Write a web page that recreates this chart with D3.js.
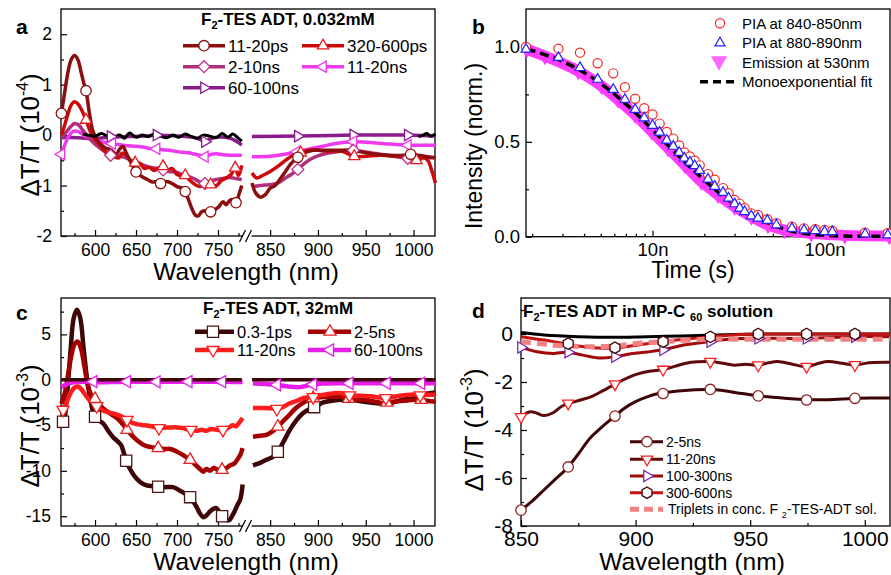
<!DOCTYPE html>
<html>
<head>
<meta charset="utf-8">
<script src="https://cdn.jsdelivr.net/npm/d3@7"></script>
<style>
  body { margin: 0; background: #fff; }
  svg { font-family: "Liberation Sans", Arial, Helvetica, sans-serif; }
</style>
</head>
<body>
<svg id="fig" width="891" height="575"></svg>
<script>
// ---- panel a: F2-TES ADT 0.032mM, dT/T in 1e-4, [nm, value] ----
const a_black = [[585,0.02],[592,0.0],[600,-0.02],[608,0.03],[615,-0.02],[622,-0.05],[630,0.0],[636,-0.06],[642,0.04],[650,-0.04],[658,0.0],[665,-0.03],[672,0.02],[680,-0.02],[688,-0.05],[695,0.0],[702,-0.04],[710,0.02],[718,-0.03],[725,-0.06],[732,0.0],[740,-0.02],[748,-0.05],[755,0.03],[762,-0.04],[768,0.02],[774,-0.05],[779,-0.12]];
const a_blackR = [[1005,-0.03],[1010,0.0],[1014,0.03],[1018,-0.02],[1023,0.02]];

const a_ps11 = [[559,0.43],[563,0.85],[567,1.25],[571,1.5],[575,1.58],[579,1.5],[583,1.25],[586,1.05],[589,0.88],[593,0.45],[597,0.1],[600,-0.02],[605,-0.15],[612,-0.25],[620,-0.3],[626,-0.38],[630,-0.28],[634,-0.22],[638,-0.35],[644,-0.55],[650,-0.73],[657,-0.82],[664,-0.88],[670,-0.93],[676,-0.92],[680,-0.96],[687,-0.92],[693,-0.95],[700,-1.02],[706,-1.05],[710,-1.12],[714,-1.28],[718,-1.45],[722,-1.58],[726,-1.6],[730,-1.52],[735,-1.5],[741,-1.52],[746,-1.48],[751,-1.42],[756,-1.32],[760,-1.38],[764,-1.3],[768,-1.28],[772,-1.34],[776,-1.15],[779,-1.0]];
const a_ps11R = [[831,-0.95],[835,-1.15],[840,-1.23],[845,-1.18],[850,-1.05],[855,-1.0],[860,-0.88],[866,-0.72],[872,-0.56],[879,-0.44],[886,-0.35],[895,-0.3],[905,-0.3],[915,-0.3],[930,-0.3],[945,-0.33],[960,-0.38],[975,-0.4],[990,-0.4],[997,-0.38],[1005,-0.4],[1015,-0.43],[1023,-0.45]];
const a_ps11M = [[559,0.43],[589,0.88],[650,-0.73],[680,-0.96],[710,-1.12],[741,-1.52],[772,-1.34],[879,-0.44],[997,-0.38]];

const a_ps320 = [[559,0.0],[563,0.2],[567,0.42],[571,0.6],[575,0.66],[579,0.62],[583,0.52],[589,0.3],[594,0.08],[598,-0.05],[602,-0.13],[607,-0.22],[612,-0.32],[618,-0.4],[624,-0.43],[629,-0.45],[633,-0.36],[637,-0.38],[642,-0.48],[649,-0.55],[655,-0.56],[660,-0.66],[666,-0.64],[672,-0.7],[677,-0.66],[683,-0.62],[688,-0.7],[694,-0.66],[700,-0.78],[705,-0.8],[710,-0.8],[716,-0.9],[722,-0.98],[728,-1.02],[734,-0.98],[741,-0.98],[748,-1.0],[754,-0.9],[760,-0.85],[766,-0.78],[771,-0.65],[775,-0.8],[779,-0.6]];
const a_ps320R = [[831,-0.75],[836,-0.85],[842,-0.8],[850,-0.72],[858,-0.62],[866,-0.5],[874,-0.4],[882,-0.35],[890,-0.3],[900,-0.3],[910,-0.32],[925,-0.32],[938,-0.42],[950,-0.42],[965,-0.4],[980,-0.42],[995,-0.45],[1003,-0.5],[1010,-0.45],[1015,-0.5],[1019,-0.7],[1023,-0.95]];
const a_ps320M = [[589,0.3],[649,-0.55],[683,-0.62],[710,-0.8],[741,-0.98],[771,-0.65],[882,-0.35],[938,-0.42],[1003,-0.5]];

const a_ns2 = [[559,-0.05],[563,0.02],[567,0.1],[571,0.18],[575,0.23],[580,0.2],[585,0.1],[590,0.0],[595,-0.1],[600,-0.18],[608,-0.28],[619,-0.4],[628,-0.42],[636,-0.44],[644,-0.5],[652,-0.56],[660,-0.6],[668,-0.64],[676,-0.66],[683,-0.69],[690,-0.72],[698,-0.73],[706,-0.78],[714,-0.82],[720,-0.86],[727,-0.92],[734,-0.96],[740,-0.92],[748,-0.88],[756,-0.86],[764,-0.84],[772,-0.86],[779,-0.88]];
const a_ns2R = [[831,-1.02],[845,-0.99],[858,-0.95],[866,-0.85],[872,-0.78],[879,-0.68],[886,-0.56],[893,-0.47],[900,-0.41],[910,-0.36],[920,-0.33],[930,-0.3],[937,-0.3],[945,-0.32],[955,-0.35],[965,-0.38],[980,-0.42],[994,-0.46],[1008,-0.45],[1023,-0.45]];
const a_ns2M = [[619,-0.4],[683,-0.69],[734,-0.96],[879,-0.68],[937,-0.3],[994,-0.46]];

const a_ns11 = [[559,-0.38],[563,-0.2],[568,-0.02],[572,0.06],[576,0.08],[582,0.05],[588,-0.02],[595,-0.07],[602,-0.1],[610,-0.14],[621,-0.17],[630,-0.19],[640,-0.21],[650,-0.22],[660,-0.24],[668,-0.27],[675,-0.27],[682,-0.29],[690,-0.3],[698,-0.32],[706,-0.34],[714,-0.35],[722,-0.38],[728,-0.4],[734,-0.43],[740,-0.39],[748,-0.37],[756,-0.39],[764,-0.4],[772,-0.4],[779,-0.4]];
const a_ns11R = [[831,-0.43],[850,-0.42],[865,-0.38],[878,-0.33],[890,-0.28],[905,-0.22],[920,-0.16],[937,-0.13],[950,-0.14],[970,-0.17],[994,-0.2],[1010,-0.2],[1023,-0.2]];
const a_ns11M = [[559,-0.38],[621,-0.17],[675,-0.27],[734,-0.43],[878,-0.33],[937,-0.13],[994,-0.2]];

const a_ns60 = [[559,-0.05],[580,-0.05],[600,-0.07],[619,-0.04],[640,-0.03],[660,-0.02],[675,0.0],[690,-0.01],[705,-0.02],[718,-0.04],[727,-0.08],[734,-0.13],[740,-0.08],[748,-0.04],[756,-0.04],[764,-0.06],[770,-0.1],[775,-0.15],[779,-0.2]];
const a_ns60R = [[831,-0.03],[879,-0.02],[937,0.0],[994,0.0],[1023,-0.02]];
const a_ns60M = [[619,-0.03],[675,0.0],[734,-0.13],[879,-0.02],[937,0.0],[994,0.0]];

// ---- panel b: decays, time in ns ----
const b_time = [1.84,2.84,3.79,4.8,5.91,6.91,7.93,8.95,10,11,12.1,13.2,14.3,15.3,16.5,17.6,18.8,21,23,25.7,27.7,30,32.1,34.3,37.5,41,46.5,52.5,64.6,75.9,88.3,100,111,172,233];
const b_pia840 = [1.0,0.991,0.97,0.914,0.861,0.788,0.727,0.677,0.644,0.596,0.552,0.517,0.481,0.444,0.423,0.4,0.376,0.33,0.3,0.256,0.229,0.194,0.173,0.15,0.123,0.115,0.092,0.071,0.053,0.044,0.039,0.035,0.032,0.021,0.018];
const b_pia880 = [0.988,0.944,0.891,0.829,0.776,0.723,0.67,0.626,0.586,0.55,0.508,0.476,0.444,0.414,0.392,0.374,0.349,0.303,0.265,0.233,0.203,0.173,0.15,0.132,0.109,0.097,0.085,0.062,0.044,0.035,0.032,0.026,0.026,0.014,0.009];
const b_emTime = [1.86,2.37,3.7,5.06,6.3,7.9,9.87,12.3,15.4,19.2,24,30,37.6,46.9,58.6,83.7,131,238];
const b_emission = [0.988,0.952,0.873,0.794,0.723,0.644,0.556,0.468,0.379,0.291,0.221,0.159,0.106,0.062,0.035,0.018,0.007,0.004];
const b_fitTime = [1.86,2.96,4.63,7.22,11.3,17.6,27.5,42.9,67,105,204,240];
const b_fit = [0.99,0.926,0.829,0.688,0.515,0.344,0.194,0.088,0.026,0.006,0.003,0.003];

// ---- panel c: F2-TES ADT 32mM, dT/T in 1e-3 ----
const c_zero = [[559,0.0],[779,0.0]];
const c_zeroR = [[831,0.0],[1023,0.0]];

const c_ps03 = [[559,-5.0],[562,-4.6],[566,-1.5],[570,3.0],[574,6.8],[578,7.7],[582,6.8],[586,3.5],[590,0.3],[594,-2.0],[598,-3.6],[602,-4.3],[610,-4.8],[616,-5.6],[622,-6.3],[628,-6.8],[632,-7.2],[638,-8.9],[644,-10.0],[650,-10.8],[656,-11.3],[663,-11.6],[670,-11.7],[677,-11.76],[685,-11.8],[695,-11.8],[702,-12.1],[708,-12.4],[716,-12.9],[720,-13.4],[724,-14.0],[728,-14.7],[732,-15.1],[736,-14.9],[740,-14.5],[744,-14.2],[748,-14.1],[752,-14.6],[756,-15.0],[760,-15.4],[764,-15.4],[767,-15.0],[770,-14.5],[774,-13.7],[777,-13.2],[780,-11.5]];
const c_ps03R = [[832,-9.4],[840,-9.1],[848,-8.7],[853,-8.45],[858,-7.9],[864,-6.8],[870,-5.6],[877,-4.5],[884,-3.7],[890,-3.3],[897,-3.0],[905,-2.5],[915,-2.3],[925,-2.2],[935,-2.2],[945,-2.35],[955,-2.5],[965,-2.6],[975,-2.55],[985,-2.3],[995,-2.0],[1005,-1.7],[1015,-1.5],[1023,-1.4]];
const c_ps03M = [[561,-4.6],[600,-4.05],[638,-8.9],[677,-11.76],[716,-12.9],[755,-15.0],[858,-7.9],[896,-3.0]];

const c_ns2 = [[559,-2.6],[563,-1.5],[567,0.5],[571,2.6],[575,3.9],[579,4.2],[583,3.4],[587,1.5],[591,-0.5],[595,-1.6],[600,-2.1],[606,-2.8],[612,-3.3],[620,-3.8],[628,-4.3],[634,-4.9],[639,-5.5],[645,-6.1],[652,-6.7],[660,-7.2],[668,-7.4],[677,-7.5],[685,-7.6],[692,-7.6],[700,-7.9],[708,-8.3],[716,-8.8],[722,-9.3],[728,-9.8],[732,-10.1],[736,-9.8],[740,-10.0],[745,-9.7],[750,-9.9],[755,-9.9],[760,-9.7],[765,-9.4],[770,-9.2],[774,-8.7],[777,-8.3],[780,-7.5]];
const c_ns2R = [[832,-6.25],[840,-6.15],[846,-6.06],[852,-5.7],[858,-5.15],[864,-4.5],[870,-3.86],[877,-3.1],[884,-2.57],[890,-2.2],[896,-2.0],[905,-1.9],[915,-1.85],[925,-1.9],[932,-2.1],[940,-2.2],[950,-2.2],[960,-2.4],[970,-2.55],[980,-2.4],[990,-2.3],[1000,-2.2],[1008,-2.2],[1015,-2.3],[1023,-2.4]];
const c_ns2M = [[600,-2.1],[639,-5.5],[677,-7.5],[716,-8.8],[755,-9.9],[858,-5.15],[895,-2.0],[932,-2.1],[972,-2.5],[1008,-2.2]];

const c_ns11 = [[559,-3.0],[563,-2.9],[567,-2.1],[571,-1.3],[575,-0.85],[579,-0.74],[583,-1.0],[587,-1.5],[592,-2.1],[597,-2.5],[602,-2.9],[610,-3.4],[618,-3.6],[626,-3.8],[632,-4.0],[639,-4.4],[645,-4.7],[652,-4.9],[660,-5.0],[668,-5.1],[678,-5.3],[688,-5.25],[698,-5.2],[706,-5.3],[716,-5.5],[724,-5.6],[730,-5.5],[736,-5.6],[742,-5.4],[748,-5.5],[755,-5.5],[762,-5.3],[768,-5.0],[772,-5.1],[776,-4.7],[780,-4.2]];
const c_ns11R = [[832,-3.1],[840,-3.1],[850,-3.12],[857,-3.2],[864,-2.95],[870,-2.6],[878,-2.3],[885,-2.0],[895,-1.85],[905,-1.65],[915,-1.5],[923,-1.45],[933,-1.65],[945,-1.75],[955,-1.8],[965,-1.95],[972,-2.0],[980,-1.85],[990,-1.7],[1000,-1.6],[1008,-1.7],[1015,-1.65],[1023,-1.65]];
const c_ns11M = [[561,-3.3],[602,-2.9],[639,-4.4],[678,-5.3],[717,-5.5],[756,-5.5],[857,-3.2],[895,-1.9],[933,-1.7],[971,-2.0],[1007,-1.7]];

const c_ns60 = [[559,-0.8],[565,-0.5],[572,-0.3],[580,-0.2],[600,-0.25],[640,-0.2],[680,-0.22],[720,-0.2],[760,-0.22],[780,-0.25]];
const c_ns60R = [[832,-0.4],[845,-0.45],[857,-0.55],[870,-0.75],[881,-0.8],[893,-0.55],[905,-0.4],[933,-0.37],[972,-0.37],[1007,-0.37],[1023,-0.37]];
const c_ns60M = [[598,-0.2],[639,-0.2],[675,-0.22],[714,-0.2],[755,-0.2],[857,-0.55],[895,-0.5],[933,-0.37],[972,-0.37],[1008,-0.37]];

// ---- panel d: in MP-C60 solution, dT/T in 1e-3 ----
const d_zero = [[850,0.06],[860,-0.04],[875,-0.11],[890,-0.14],[905,-0.11],[920,-0.08],[935,-0.04],[950,-0.01],[965,0.0],[1011,0.0]];
const d_ns2 = [[850,-7.34],[855,-6.95],[860,-6.5],[865,-6.05],[870,-5.6],[875,-5.0],[880,-4.35],[885,-3.9],[890,-3.5],[895,-3.1],[900,-2.82],[905,-2.62],[910,-2.48],[915,-2.42],[920,-2.36],[926,-2.32],[932,-2.31],[938,-2.35],[944,-2.45],[950,-2.53],[956,-2.6],[962,-2.65],[968,-2.7],[975,-2.73],[982,-2.74],[990,-2.71],[996,-2.68],[1003,-2.67],[1011,-2.67]];
const d_ns2M = [[850,-7.34],[870.6,-5.54],[891,-3.42],[912,-2.48],[932.6,-2.31],[953.5,-2.58],[974.6,-2.75],[995.7,-2.68]];
const d_ns11 = [[850,-3.45],[854,-3.24],[857,-3.3],[860,-3.4],[864,-3.28],[868,-3.0],[871,-2.89],[876,-2.75],[881,-2.6],[886,-2.35],[891,-2.09],[896,-1.85],[901,-1.66],[906,-1.55],[912,-1.48],[917,-1.35],[922,-1.22],[927,-1.16],[933,-1.15],[938,-1.22],[943,-1.3],[948,-1.26],[953.5,-1.3],[958,-1.2],[962,-1.15],[968,-1.25],[974.6,-1.36],[980,-1.22],[984,-1.15],[990,-1.22],[995.7,-1.29],[1002,-1.2],[1011,-1.18]];
const d_ns11M = [[850,-3.45],[870.6,-2.89],[891,-2.09],[912,-1.48],[932.6,-1.15],[953.5,-1.3],[974.6,-1.36],[995.7,-1.29]];
const d_ns100 = [[850,-0.56],[857,-0.74],[864,-0.81],[870,-0.76],[877,-0.88],[884,-1.0],[891,-0.95],[898,-0.82],[905,-0.75],[912,-0.66],[921,-0.46],[932,-0.32],[943,-0.2],[953,-0.18],[975,-0.18],[995,-0.11],[1011,-0.11]];
const d_ns100M = [[850,-0.56],[870.6,-0.76],[891,-0.95],[912,-0.66],[932.6,-0.32],[953.5,-0.18],[974.6,-0.18],[995.7,-0.11]];
const d_ns300 = [[850,-0.11],[860,-0.25],[870,-0.42],[880,-0.56],[891,-0.58],[901,-0.46],[912,-0.32],[921,-0.22],[932,-0.12],[943,-0.04],[953,0.0],[975,0.0],[995,0.0],[1011,0.0]];
const d_ns300M = [[870.6,-0.4],[891,-0.57],[912,-0.32],[932.6,-0.12],[953.5,0.0],[974.6,0.0],[995.7,0.0]];
const d_triplets = [[850,-0.32],[860,-0.42],[870,-0.5],[880,-0.53],[891,-0.5],[901,-0.39],[912,-0.32],[932,-0.22],[953,-0.22],[975,-0.22],[1011,-0.22]];

// tick values
const abMajorL = [600, 650, 700, 750], abMinorL = [575, 625, 675, 725, 775];
const abMajorR = [850, 900, 950, 1000], abMinorR = [875, 925, 975];
const dMajor = [850, 900, 950, 1000], dMinor = [875, 925, 975];

const svg = d3.select("#fig");
const smooth = d3.curveCatmullRom.alpha(0.5);

// panel frames
const A = { x0: 61, x1: 435, y0: 9, y1: 236 };
const B = { x0: 526, x1: 890, y0: 9, y1: 236.7 };
const C = { x0: 61, x1: 435, y0: 298, y1: 526 };
const D = { x0: 521, x1: 890, y0: 298, y1: 526 };

// scales
const xL = d3.scaleLinear().domain([558.5, 780]).range([61, 242.6]);
const xR = d3.scaleLinear().domain([831, 1023]).range([252, 435.5]);
const xAB = nm => nm < 800 ? xL(nm) : xR(nm);
const yA = d3.scaleLinear().domain([-2, 2.5]).range([A.y1, A.y0]);
const xB = d3.scaleLog().domain([1.84, 240]).range([B.x0, B.x1]);
const yB = d3.scaleLinear().domain([0, 1.2]).range([B.y1, B.y0]);
const yC = d3.scaleLinear().domain([-16.07, 9]).range([C.y1, C.y0]);
const xD = d3.scaleLinear().domain([850, 1011]).range([D.x0, D.x1]);
const yD = d3.scaleLinear().domain([-8, 1.5]).range([D.y1, D.y0]);

function styleAxis(g, size) {
  g.attr("font-size", size).attr("font-family", null);
  g.select(".domain").remove();
  g.selectAll("line").attr("stroke", "#000").attr("stroke-width", 1.2);
  g.selectAll("text").attr("fill", "#000");
}

function bottomAxis(scale, y, major, minor, fmt, pad, size) {
  svg.append("g").attr("transform", `translate(0,${y})`)
    .call(d3.axisBottom(scale).tickValues(major).tickSize(-6).tickPadding(pad).tickFormat(fmt))
    .call(g => styleAxis(g, size));
  svg.append("g").attr("transform", `translate(0,${y})`)
    .call(d3.axisBottom(scale).tickValues(minor).tickSize(-3).tickFormat(""))
    .call(g => styleAxis(g, size));
}

function leftAxis(scale, x, major, minor, fmt, pad, size) {
  svg.append("g").attr("transform", `translate(${x},0)`)
    .call(d3.axisLeft(scale).tickValues(major).tickSize(-6).tickPadding(pad).tickFormat(fmt))
    .call(g => styleAxis(g, size));
  svg.append("g").attr("transform", `translate(${x},0)`)
    .call(d3.axisLeft(scale).tickValues(minor).tickSize(-3).tickFormat(""))
    .call(g => styleAxis(g, size));
}

function frame(p) {
  svg.append("rect").attr("x", p.x0).attr("y", p.y0)
    .attr("width", p.x1 - p.x0).attr("height", p.y1 - p.y0)
    .attr("fill", "none").attr("stroke", "#000").attr("stroke-width", 1.3);
}

function breakMark(y) {
  svg.append("rect").attr("x", 243).attr("y", y - 3).attr("width", 8.5).attr("height", 6).attr("fill", "#fff");
  [239.5, 245.5].forEach(x0 => {
    svg.append("line").attr("x1", x0).attr("y1", y + 6).attr("x2", x0 + 6).attr("y2", y - 6)
      .attr("stroke", "#000").attr("stroke-width", 1.2);
  });
}

function yTitle(x, y, base, exp, size) {
  const t = svg.append("text").attr("transform", `translate(${x},${y}) rotate(-90)`)
    .attr("text-anchor", "middle").attr("font-size", size);
  t.append("tspan").text(base);
  if (exp) {
    t.append("tspan").attr("dy", -size * 0.42).attr("font-size", size * 0.6).text(exp);
    t.append("tspan").attr("dy", size * 0.42).text(")");
  }
}

function xTitle(x, y, txt, size) {
  svg.append("text").attr("x", x).attr("y", y).attr("text-anchor", "middle")
    .attr("font-size", size).text(txt);
}

function panelLabel(x, y, txt) {
  svg.append("text").attr("x", x).attr("y", y).attr("font-size", 21)
    .attr("font-weight", "bold").text(txt);
}

// marker shapes
function markerPath(type, r) {
  const poly = pts => "M" + pts.map(p => p.join(",")).join("L") + "Z";
  const tri = (ang) => {
    const R = r * 1.25;
    return poly([0, 1, 2].map(i => {
      const a = ang + i * 2 * Math.PI / 3;
      return [R * Math.cos(a), R * Math.sin(a)];
    }));
  };
  switch (type) {
    case "square": return poly([[-r, -r], [r, -r], [r, r], [-r, r]]);
    case "diamond": return poly([[0, -r * 1.15], [r * 1.15, 0], [0, r * 1.15], [-r * 1.15, 0]]);
    case "up": return tri(-Math.PI / 2);
    case "down": return tri(Math.PI / 2);
    case "left": return tri(Math.PI);
    case "right": return tri(0);
    case "hex": return poly(d3.range(6).map(i => {
      const a = -Math.PI / 2 + i * Math.PI / 3;
      return [r * 1.1 * Math.cos(a), r * 1.1 * Math.sin(a)];
    }));
    default: return null;
  }
}

function marker(x, y, type, r, stroke, fill, sw) {
  if (type === "circle") {
    svg.append("circle").attr("cx", x).attr("cy", y).attr("r", r)
      .attr("fill", fill).attr("stroke", stroke).attr("stroke-width", sw);
  } else {
    svg.append("path").attr("transform", `translate(${x},${y})`).attr("d", markerPath(type, r))
      .attr("fill", fill).attr("stroke", stroke).attr("stroke-width", sw);
  }
}

function line(pts, xs, ys, color, w, dash) {
  svg.append("path").datum(pts)
    .attr("d", d3.line().x(d => xs(d[0])).y(d => ys(d[1])).curve(smooth))
    .attr("fill", "none").attr("stroke", color).attr("stroke-width", w)
    .attr("stroke-linejoin", "round").attr("stroke-linecap", "butt")
    .attr("stroke-dasharray", dash || null);
}

function legendEntry(x0, x1, y, mx, type, r, color, mstroke, w, label, size, dash) {
  svg.append("line").attr("x1", x0).attr("x2", x1).attr("y1", y).attr("y2", y)
    .attr("stroke", color).attr("stroke-width", w).attr("stroke-dasharray", dash || null);
  if (type) marker(mx, y, type, r, mstroke, "#fff", 1.3);
  svg.append("text").attr("x", x1 + 3).attr("y", y).attr("dy", "0.36em")
    .attr("font-size", size).text(label);
}

function subTitle(x, y, parts, size) {
  // parts: [text, sub, text, sub, text ...]
  const t = svg.append("text").attr("x", x).attr("y", y).attr("font-size", size).attr("font-weight", "bold");
  parts.forEach((p, i) => {
    if (i % 2 === 0) t.append("tspan").attr("dy", i ? -4 : 0).attr("font-size", size).text(p);
    else t.append("tspan").attr("dy", 4).attr("font-size", size * 0.65).text(p);
  });
}

const fmtPlain = d => String(d);

// ================= panel a =================
frame(A);
bottomAxis(xL, A.y1, abMajorL, abMinorL, fmtPlain, 7.5, 17.5);
bottomAxis(xR, A.y1, abMajorR, abMinorR, fmtPlain, 7.5, 17.5);
leftAxis(yA, A.x0, [-2, -1, 0, 1, 2], [-1.5, -0.5, 0.5, 1.5], fmtPlain, 9, 17.5);
breakMark(A.y1);

const aSeries = [
  { L: a_ns60, R: a_ns60R, M: a_ns60M, color: "#8c1c8c", ms: "#8c1c8c", type: "right" },
  { L: a_ns11, R: a_ns11R, M: a_ns11M, color: "#ec3aec", ms: "#ee33ee", type: "left" },
  { L: a_ns2, R: a_ns2R, M: a_ns2M, color: "#b0307c", ms: "#c0308c", type: "diamond" },
  { L: a_ps320, R: a_ps320R, M: a_ps320M, color: "#cc0a0a", ms: "#e81818", type: "up" },
  { L: a_ps11, R: a_ps11R, M: a_ps11M, color: "#8b0f0f", ms: "#8b0f0f", type: "circle" }
];
aSeries.forEach(s => {
  line(s.L, xL, yA, s.color, 3.5);
  line(s.R, xR, yA, s.color, 3.5);
});
line(a_black, xL, yA, "#000", 3);
line(a_blackR, xR, yA, "#000", 3);
aSeries.forEach(s => {
  s.M.forEach(d => marker(xAB(d[0]), yA(d[1]), s.type, 5.2, s.ms, "#fff", 1.3));
});

subTitle(201, 25, ["F", "2", "-TES ADT, 0.032mM"], 17);
legendEntry(183, 225, 45.7, 204, "circle", 5.2, "#8b0f0f", "#8b0f0f", 3.5, "11-20ps", 17);
legendEntry(302, 344, 45.7, 323, "up", 5.2, "#cc0a0a", "#e81818", 3.5, "320-600ps", 17);
legendEntry(183, 225, 66.7, 204, "diamond", 5.2, "#b0307c", "#c0308c", 3.5, "2-10ns", 17);
legendEntry(302, 344, 66.7, 323, "left", 5.2, "#ec3aec", "#ee33ee", 3.5, "11-20ns", 17);
legendEntry(183, 225, 87.7, 204, "right", 5.2, "#8c1c8c", "#8c1c8c", 3.5, "60-100ns", 17);

yTitle(39, 135, "\u0394T/T (10", "-4", 26);
xTitle(246, 280, "Wavelength (nm)", 24.5);
panelLabel(16, 34, "a");

// ================= panel b =================
frame(B);
bottomAxis(xB, B.y1, [10, 100], [2, 3, 4, 5, 6, 7, 8, 9, 20, 30, 40, 50, 60, 70, 80, 90, 200], d => d + "n", 6, 18.5);
leftAxis(yB, B.x0, [0, 0.5, 1.0], [0.25, 0.75], d3.format(".1f"), 6, 18.5);

const emPts = b_emTime.map((t, i) => [t, b_emission[i]]);
line(emPts, xB, yB, "#ff3cff", 11);
emPts.forEach(d => marker(xB(d[0]), yB(d[1]) + 3, "down", 5, "none", "#ff3cff", 0));
line(b_fitTime.map((t, i) => [t, b_fit[i]]), xB, yB, "#000", 3.5, "9,5");
b_time.forEach((t, i) => marker(xB(t), yB(b_pia840[i]), "circle", 4.6, "#ff2020", "#fff", 1.2));
b_time.forEach((t, i) => marker(xB(t), yB(b_pia880[i]), "up", 4.6, "#2020ff", "#fff", 1.2));

marker(720, 23.3, "circle", 4.6, "#ff2020", "#fff", 1.2);
marker(720, 43, "up", 4.6, "#2020ff", "#fff", 1.2);
marker(719, 61, "down", 7.5, "none", "#ff66ff", 0);
svg.append("line").attr("x1", 700).attr("x2", 737).attr("y1", 81.7).attr("y2", 81.7)
  .attr("stroke", "#000").attr("stroke-width", 3.5).attr("stroke-dasharray", "8,5");
[["PIA at 840-850nm", 23.3], ["PIA at 880-890nm", 42.7], ["Emission at 530nm", 62.7], ["Monoexponential fit", 81.7]]
  .forEach(([t, y]) => svg.append("text").attr("x", 742).attr("y", y).attr("dy", "0.36em").attr("font-size", 15).text(t));

yTitle(482, 146, "Intensity (norm.)", null, 23);
xTitle(693, 278, "Time (s)", 23);
panelLabel(472, 34, "b");

// ================= panel c =================
frame(C);
bottomAxis(xL, C.y1, abMajorL, abMinorL, fmtPlain, 7.5, 17.5);
bottomAxis(xR, C.y1, abMajorR, abMinorR, fmtPlain, 7.5, 17.5);
leftAxis(yC, C.x0, [-15, -10, -5, 0, 5], [-12.5, -7.5, -2.5, 2.5, 7.5], fmtPlain, 10, 17.5);
breakMark(C.y1);

const cSeries = [
  { L: c_ps03, R: c_ps03R, M: c_ps03M, color: "#3d0707", ms: "#4a1515", type: "square" },
  { L: c_ns2, R: c_ns2R, M: c_ns2M, color: "#a30000", ms: "#e62020", type: "up" },
  { L: c_ns11, R: c_ns11R, M: c_ns11M, color: "#ff1c1c", ms: "#ff1c1c", type: "down" },
  { L: c_ns60, R: c_ns60R, M: c_ns60M, color: "#e61ee6", ms: "#e61ee6", type: "left" }
];
cSeries.forEach(s => {
  line(s.L, xL, yC, s.color, 4.5);
  line(s.R, xR, yC, s.color, 4.5);
});
line(c_zero, xL, yC, "#3d0707", 3.5);
line(c_zeroR, xR, yC, "#3d0707", 3.5);
cSeries.forEach(s => {
  s.M.forEach(d => marker(xAB(d[0]), yC(d[1]), s.type, 5.6, s.ms, "#fff", 1.3));
});

subTitle(203, 314, ["F", "2", "-TES ADT, 32mM"], 17);
legendEntry(195, 234, 331.7, 213, "square", 5.6, "#3d0707", "#4a1515", 4.5, "0.3-1ps", 16.5);
legendEntry(308, 351, 331.7, 330, "up", 5.6, "#a30000", "#e62020", 4.5, "2-5ns", 16.5);
legendEntry(195, 234, 350, 213, "down", 5.6, "#ff1c1c", "#ff1c1c", 4.5, "11-20ns", 16.5);
legendEntry(308, 351, 350, 330, "left", 5.6, "#e61ee6", "#e61ee6", 4.5, "60-100ns", 16.5);

yTitle(39, 426, "\u0394T/T (10", "-3", 26);
xTitle(246, 570, "Wavelength (nm)", 24.5);
panelLabel(16, 320, "c");

// ================= panel d =================
frame(D);
bottomAxis(xD, D.y1, dMajor, dMinor, fmtPlain, 5, 21);
leftAxis(yD, D.x0, [-8, -6, -4, -2, 0], [-7, -5, -3, -1, 1], fmtPlain, 8, 21);

line(d_zero, xD, yD, "#000", 3);
line(d_ns2, xD, yD, "#3d0505", 3);
line(d_ns11, xD, yD, "#5c0a0a", 3);
line(d_ns100, xD, yD, "#a00a0a", 3);
line(d_ns300, xD, yD, "#c41414", 3);
line(d_triplets, xD, yD, "#f28282", 5, "10,6");
d_ns2M.forEach(d => marker(xD(d[0]), yD(d[1]), "circle", 5.2, "#8b2020", "#fff", 1.3));
d_ns11M.forEach(d => marker(xD(d[0]), yD(d[1]), "down", 5.2, "#ff2020", "#fff", 1.3));
d_ns100M.forEach(d => marker(xD(d[0]), yD(d[1]), "right", 5.2, "#7a2ab0", "#fff", 1.3));
d_ns300M.forEach(d => marker(xD(d[0]), yD(d[1]), "hex", 5.2, "#3d0505", "#fff", 1.3));

subTitle(523, 317, ["F", "2", "-TES ADT in MP-C ", "60", " solution"], 17);
legendEntry(630, 663, 441.7, 647, "circle", 5.2, "#3d0505", "#8b2020", 3, "2-5ns", 14);
legendEntry(630, 663, 459.3, 647, "down", 5.2, "#5c0a0a", "#ff2020", 3, "11-20ns", 14);
legendEntry(630, 663, 476, 647, "right", 5.2, "#a00a0a", "#7a2ab0", 3, "100-300ns", 14);
legendEntry(630, 663, 492.7, 647, "hex", 5.2, "#c41414", "#3d0505", 3, "300-600ns", 14);
svg.append("line").attr("x1", 630).attr("x2", 663).attr("y1", 509.3).attr("y2", 509.3)
  .attr("stroke", "#f28282").attr("stroke-width", 5).attr("stroke-dasharray", "9,5");
{
  const t = svg.append("text").attr("x", 668).attr("y", 509.3).attr("dy", "0.36em").attr("font-size", 14);
  t.append("tspan").text("Triplets in conc. F ");
  t.append("tspan").attr("dy", 4).attr("font-size", 9).text("2");
  t.append("tspan").attr("dy", -4).text("-TES-ADT sol.");
}

yTitle(483, 430, "\u0394T/T (10", "-3", 26);
xTitle(692, 570, "Wavelength (nm)", 24.5);
panelLabel(472, 318, "d");
</script>
</body>
</html>
